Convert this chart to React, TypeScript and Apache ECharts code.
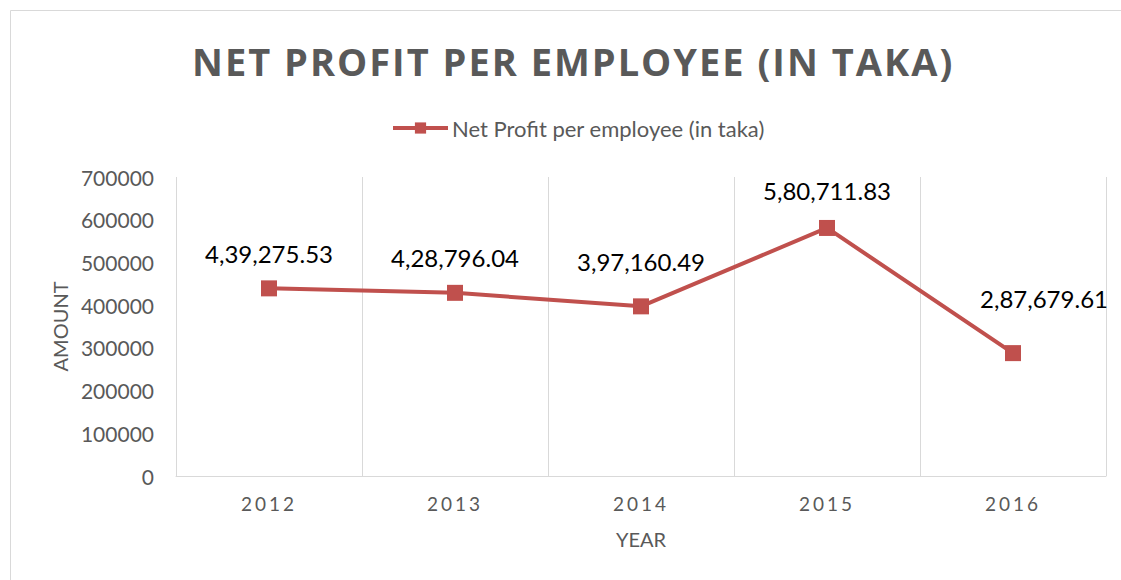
import React, { useEffect, useRef } from "react";
import * as echarts from "echarts";

const years = ["2012", "2013", "2014", "2015", "2016"];
const netProfit = [439275.53, 428796.04, 397160.49, 580711.83, 287679.61];
const seriesName = "Net Profit per employee (in taka)";
const titleText = "NET PROFIT PER EMPLOYEE (IN TAKA)";
const yMin = 0;
const yMax = 700000;
const yStep = 100000;

function indianFormat(v: number): string {
  const [intPart, dec] = v.toFixed(2).split(".");
  let last3 = intPart.slice(-3);
  let rest = intPart.slice(0, -3);
  if (rest.length > 0) {
    rest = rest.replace(/\B(?=(\d{2})+(?!\d))/g, ",");
    last3 = rest + "," + last3;
  }
  return last3 + "." + dec;
}

const labelOffsets = [
  [0, 0],
  [0, 0],
  [0, -10],
  [0, -2],
  [31, -20],
];

export default function App() {
  const ref = useRef<HTMLDivElement>(null);
  useEffect(() => {
    const chart = echarts.init(ref.current!, undefined, { renderer: "svg" });
    chart.setOption({
      animation: false,
      backgroundColor: "#ffffff",
      textStyle: { fontFamily: "Lato" },
      title: {
        text: titleText,
        left: 187,
        top: 37,
        textStyle: {
          fontFamily: "Open Sans",
          fontWeight: "bold",
          fontSize: 38,
          color: "#595959",
        },
      },
      legend: {
        top: 112,
        left: 386,
        itemWidth: 55,
        itemHeight: 14,
        itemGap: 4,
        lineStyle: { width: 4 },
        textStyle: { fontSize: 22, color: "#595959", fontFamily: "Lato", padding: [0, 0, 0, -1] },
        data: [seriesName],
      },
      graphic: [
        {
          type: "rect",
          shape: { x: 10.5, y: 10.5, width: 1130, height: 600 },
          style: { fill: "none", stroke: "#d9d9d9", lineWidth: 1 },
          silent: true,
        },
      ],
      grid: { left: 176, right: 15, top: 177, bottom: 104 },
      xAxis: {
        type: "category",
        data: years,
        boundaryGap: true,
        name: "YEAR",
        nameLocation: "middle",
        nameGap: 53,
        nameTextStyle: { fontSize: 20, color: "#595959" },
        axisLine: { lineStyle: { color: "#d9d9d9", width: 1 } },
        axisTick: { show: false },
        axisLabel: { fontSize: 19, color: "#595959", margin: 18 },
        splitLine: { show: true, lineStyle: { color: "#d9d9d9", width: 1 } },
      },
      yAxis: {
        type: "value",
        min: yMin,
        max: yMax,
        interval: yStep,
        name: "AMOUNT",
        nameLocation: "middle",
        nameRotate: 90,
        nameGap: 106,
        nameTextStyle: { fontSize: 20, color: "#595959" },
        axisLine: { show: false },
        axisTick: { show: false },
        splitLine: { show: false },
        axisLabel: {
          fontSize: 21,
          color: "#595959",
          margin: 22,
          formatter: (v: number) => String(v),
        },
      },
      series: [
        {
          name: seriesName,
          type: "line",
          data: netProfit.map((v, i) => ({
            value: v,
            label: { offset: labelOffsets[i] },
          })),
          symbol: "rect",
          symbolSize: 16,
          lineStyle: { color: "#c0504d", width: 4 },
          itemStyle: { color: "#c0504d" },
          label: {
            show: true,
            position: "top",
            distance: 15,
            fontSize: 24,
            color: "#000000",
            fontFamily: "Lato",
            formatter: (p: any) => indianFormat(p.value),
          },
        },
      ],
    });
    const svg = ref.current!.querySelector("svg");
    if (svg) {
      svg.querySelectorAll("text").forEach((t) => {
        const s = t.textContent || "";
        if (s === titleText) {
          (t as SVGTextElement).style.letterSpacing = "2px";
        } else if (years.includes(s)) {
          (t as SVGTextElement).style.letterSpacing = "3px";
        }
      });
    }
    return () => chart.dispose();
  }, []);
  return (
    <div
      ref={ref}
      style={{ position: "fixed", left: 0, top: 0, width: 1121, height: 580 }}
    />
  );
}
